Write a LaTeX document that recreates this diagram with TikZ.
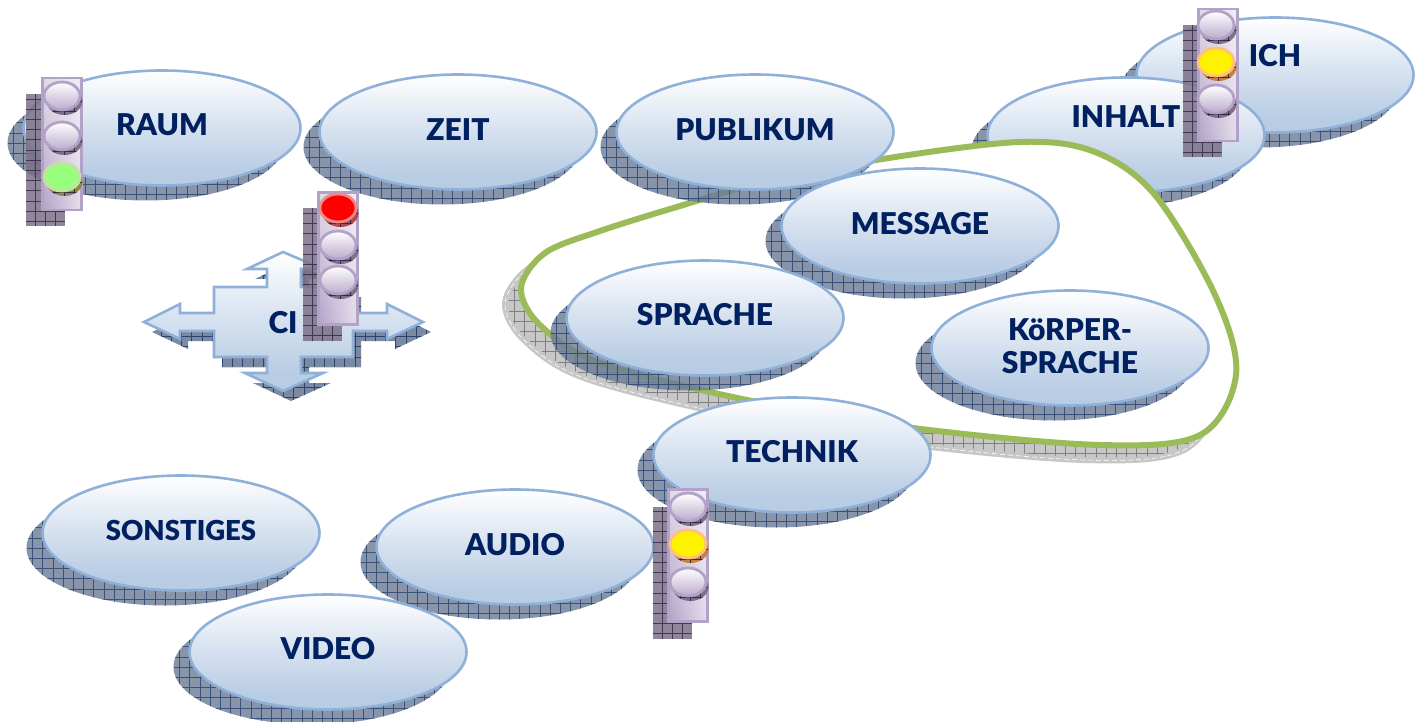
\documentclass[tikz,border=0pt]{standalone}
\usepackage{fontspec}
\setmainfont{Lato}[BoldFont={Lato Black}]
\usetikzlibrary{shapes.geometric,shadings}
\definecolor{ovalbot}{HTML}{B8CCE4}
\definecolor{ovaledge}{HTML}{8FB0D8}
\definecolor{inktext}{HTML}{002060}
\definecolor{shfill}{HTML}{6C7C97}
\definecolor{shgrid}{HTML}{2A4470}
\definecolor{hfill}{HTML}{7C7188}
\definecolor{hgrid}{HTML}{35294A}
\definecolor{boxedge}{HTML}{B3A2C7}
\definecolor{loopgreen}{HTML}{9BBB59}
\pgfdeclareverticalshading{ovalgrad}{100bp}{color(0bp)=(ovalbot);color(31bp)=(ovalbot);color(50bp)=(ovalbot!60!white);color(75bp)=(white);color(100bp)=(white)}
\tikzset{
  x=1pt,y=-1pt,
  hatched/.style 2 args={fill=#1,path picture={\draw[draw=#2,line width=.5pt,step=10.2pt] (path picture bounding box.south west) grid (path picture bounding box.north east);}},
  ovalshape/.style={ellipse,minimum width=277pt,minimum height=115pt,inner sep=0pt,outer sep=0pt},
  oval/.style={ovalshape,shading=ovalgrad,draw=ovaledge,line width=2.6pt},
  ovalshadow/.style={ovalshape,hatched={shfill}{shgrid},opacity=.82,xshift=-16pt,yshift=-15pt},
  txt/.style={font=\fontsize{30}{33}\selectfont\bfseries,text=inktext,inner sep=0pt,align=center},
  housing/.style={rectangle,minimum width=39pt,minimum height=132pt,inner sep=0pt,outer sep=0pt,draw=boxedge,line width=2.4pt,
     lower left=boxedge,lower right=boxedge!35!white,upper left=boxedge!40!white,upper right=boxedge!20!white},
  housingshadow/.style={rectangle,minimum width=39pt,minimum height=132pt,inner sep=0pt,outer sep=0pt,hatched={hfill}{hgrid},opacity=.85},
  lampshape/.style={ellipse,minimum width=36pt,minimum height=28pt,inner sep=0pt,outer sep=0pt},
  lampoff/.style={lampshape,draw=boxedge,line width=2.8pt,top color=white,bottom color=boxedge!90!white},
  lampgreen/.style={lampshape,draw=green!25!olive!35!white,line width=2.8pt,fill=green!45!white!90!yellow},
  lampred/.style={lampshape,draw=red!45!white!85!gray,line width=2.8pt,fill=red},
  lampyellow/.style={lampshape,draw=orange!50!white,line width=2.8pt,fill=yellow},
}
\newcommand\ovalitem[5]{%
  \node[ovalshadow] (#1-s) at (#2,#3) {};
  \node[oval] (#1) at (#2,#3) {};
  \node[txt] (#1-t) at ([yshift=#5pt]#1.center) {#4};
}
\newcommand\lamp[5]{% name x y style shadowcolor
  \node[lampshape,hatched={#5}{hgrid},xshift=2.5pt,yshift=-5pt] (#1-s) at (#2,#3) {};
  \node[#4] (#1) at (#2,#3) {};
}
\newcommand\crosspath{(283,252) -- (323,269) -- (301,269) -- (301,287) -- (353,287) -- (353,313) -- (387,313) -- (387,304) -- (423,322) -- (387,339) -- (387,331) -- (353,331) -- (353,357) -- (301,357) -- (301,373) -- (323,373) -- (283,391) -- (245,373) -- (267,373) -- (267,357) -- (214,357) -- (214,331) -- (180,331) -- (180,339) -- (144,322) -- (180,304) -- (180,313) -- (214,313) -- (214,287) -- (267,287) -- (267,269) -- (247,269) -- cycle}
\newcommand\loopcurve{plot[smooth cycle,tension=.55] coordinates {(1019,142) (1095,152) (1155,195) (1216,297) (1236,375) (1200,435) (1100,445) (913,428) (747,400) (600,363) (540,325) (521,288) (545,253) (600,231) (680,206) (760,183) (876,160)}}
\begin{document}
\begin{tikzpicture}
\useasboundingbox (0,0) rectangle (1425,722);
% upper right ovals lie under the loop
\ovalitem{ich}{1275}{75}{ICH}{19}
\ovalitem{inhalt}{1126}{135}{INHALT}{18}
% freeform loop with its shadow
\path[shift={(-16,15)},draw=black!22,line width=6pt,hatched={black!22}{black!50}] \loopcurve;
\draw[shift={(-16,15)},white,line width=.6pt,dash pattern=on 5pt off 3pt] \loopcurve;
\draw[fill=white,draw=loopgreen,line width=6pt] \loopcurve;
% ovals
\ovalitem{raum}{162}{128}{RAUM}{3}
\ovalitem{zeit}{458}{132}{ZEIT}{2}
\ovalitem{publikum}{755}{132}{PUBLIKUM}{2}
\ovalitem{message}{920}{226}{MESSAGE}{2}
\ovalitem{sprache}{705}{318}{SPRACHE}{3}
\ovalitem{koerper}{1070}{348}{\setlength{\baselineskip}{32pt}KöRPER-\\SPRACHE}{2}
\ovalitem{technik}{792}{455}{TECHNIK}{3}
\ovalitem{sonstiges}{181}{533}{\fontsize{27.5}{30}\selectfont SONSTIGES}{3}
\ovalitem{audio}{515}{547}{AUDIO}{2}
\ovalitem{video}{328}{652}{VIDEO}{3}
% cross arrow
\path[shift={(8,10)},hatched={shfill!90!white}{shgrid}] \crosspath;
\draw[shading=ovalgrad,draw=ovaledge,line width=2.6pt,line join=miter] \crosspath;
\node[txt] (ci) at (283,323) {CI};
% traffic lights
\node[housingshadow] (a1-s) at (45.5,160) {};
\node[housing] (a1) at (62,144) {};
\lamp{a1-l1}{62}{96}{lampoff}{hfill}
\lamp{a1-l2}{62}{136}{lampoff}{hfill}
\lamp{a1-l3}{62}{177}{lampgreen}{olive!60!gray}

\node[housingshadow] (a2-s) at (322.5,274.5) {};
\node[housing] (a2) at (338,258.5) {};
\lamp{a2-l1}{338}{208}{lampred}{red!45!gray}
\lamp{a2-l2}{338}{245}{lampoff}{hfill}
\lamp{a2-l3}{338}{280}{lampoff}{hfill}

\node[housingshadow] (a3-s) at (1202,91) {};
\node[housing] (a3) at (1218,75) {};
\lamp{a3-l1}{1216}{25}{lampoff}{hfill}
\lamp{a3-l2}{1216}{62}{lampyellow}{orange!55!gray}
\lamp{a3-l3}{1216}{99}{lampoff}{hfill}

\node[housingshadow] (a4-s) at (672,572.5) {};
\node[housing] (a4) at (688,555.5) {};
\lamp{a4-l1}{688}{507}{lampoff}{hfill}
\lamp{a4-l2}{688}{544}{lampyellow}{orange!55!gray}
\lamp{a4-l3}{688}{582}{lampoff}{hfill}
\end{tikzpicture}
\end{document}
